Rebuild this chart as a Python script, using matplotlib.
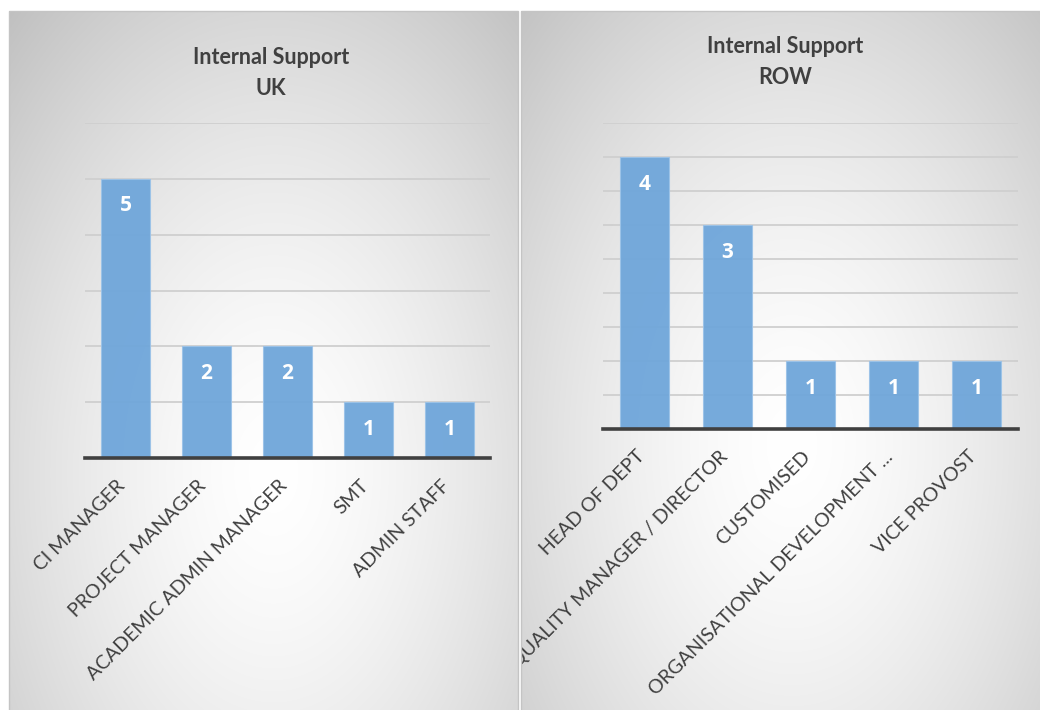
import numpy as np
import matplotlib
matplotlib.use("Agg")
import matplotlib.pyplot as plt
from matplotlib.patches import Rectangle
from matplotlib.transforms import Bbox, TransformedBbox, ScaledTranslation

plt.rcParams['font.family'] = ['Lato', 'DejaVu Sans']

# data
uk_roles = ["CI MANAGER", "PROJECT MANAGER", "ACADEMIC ADMIN MANAGER", "SMT", "ADMIN STAFF"]
uk_counts = [5, 2, 2, 1, 1]

row_roles = ["HEAD OF DEPT", "QUALITY MANAGER / DIRECTOR", "CUSTOMISED",
             "ORGANISATIONAL DEVELOPMENT ...", "VICE PROVOST"]
row_counts = [4, 3, 1, 1, 1]

W, H = 1040, 710
BAR = "#6fa6da"
TXT = "#404040"

fig = plt.figure(figsize=(W / 100, H / 100), dpi=100)
fig.patch.set_facecolor("white")


def fx(px):
    return px / W


def fy(py):
    return 1 - py / H


def gradient_panel(x0, x1, y0, y1, cx, cy):
    # radial grey -> white fill like the office chart style
    bg = fig.add_axes([fx(x0), fy(y1), fx(x1 - x0), (y1 - y0) / H], zorder=0)
    xx, yy = np.meshgrid(np.linspace(0, 1, 300), np.linspace(0, 1, 400))
    r = np.sqrt(((xx - cx) / 0.78) ** 2 + ((yy - cy) / 0.9) ** 2)
    v = 1.0 - 0.25 * np.clip(r, 0, 1) ** 1.5
    img = np.dstack([v, v, v])
    bg.imshow(img, aspect="auto", extent=[0, 1, 1, 0], interpolation="bilinear")
    bg.set_xlim(0, 1)
    bg.set_ylim(1, 0)
    bg.axis("off")
    fig.patches.append(Rectangle((fx(x0), fy(y1)), fx(x1 - x0), (y1 - y0) / H,
                                 transform=fig.transFigure, fill=False,
                                 edgecolor="#c4c4c4", lw=1, zorder=5))
    return bg


gradient_panel(9, 518, 11, 712, 0.52, 0.66)
gradient_panel(521, 1042, 11, 712, 0.52, 0.62)


def bar_panel(rect, roles, counts, ymax, step, title, tx, ty, clip_left):
    ax = fig.add_axes(rect, zorder=2)
    ax.patch.set_alpha(0)
    x = np.arange(len(roles))
    ax.set_axisbelow(True)
    ax.yaxis.grid(True, color="#cfcfcf", lw=1.3)
    bars = ax.bar(x, counts, width=0.6, color=BAR, edgecolor="#9cc3e8", lw=0.8,
                  alpha=0.95, zorder=2)
    for b, c in zip(bars, counts):
        ax.annotate(str(c), (b.get_x() + b.get_width() / 2, b.get_height()),
                    xytext=(0, -27), textcoords="offset pixels", ha="center",
                    va="center", color="white", fontsize=15, fontweight="bold",
                    family=["Open Sans", "DejaVu Sans"])
    ax.set_xlim(-0.5, len(roles) - 0.5)
    ax.set_ylim(0, ymax)
    ax.set_yticks(np.arange(0, ymax + 0.01, step))
    ax.tick_params(axis="y", left=False, labelleft=False)
    ax.tick_params(axis="x", bottom=False, pad=10)
    ax.set_xticks(x)
    ax.set_xticklabels(roles, rotation=45, ha="right", va="top",
                       rotation_mode="anchor", fontsize=14, color=TXT)
    shift = ScaledTranslation(-9 / 100, 0, fig.dpi_scale_trans)
    clip = TransformedBbox(Bbox([[fx(clip_left), 0], [1, 1]]), fig.transFigure)
    for lab in ax.get_xticklabels():
        lab.set_transform(lab.get_transform() + shift)
        lab.set_clip_box(clip)
        lab.set_clip_on(True)
    for s in ["top", "right", "left"]:
        ax.spines[s].set_visible(False)
    ax.spines["bottom"].set_color("#404040")
    ax.spines["bottom"].set_linewidth(2.6)
    fig.text(fx(tx), fy(ty), title, ha="center", va="center", fontsize=15.5,
             fontweight="bold", color=TXT, linespacing=1.6, zorder=3)
    return ax


bar_panel([fx(85), fy(458), fx(405), (458 - 123) / H], uk_roles, uk_counts,
          6, 1, "Internal Support\nUK", 271, 73, 9)
bar_panel([fx(603), fy(429), fx(415), (429 - 123) / H], row_roles, row_counts,
          4.5, 0.5, "Internal Support\nROW", 785, 62, 521)

fig.savefig("out.png", dpi=100, facecolor="white")
